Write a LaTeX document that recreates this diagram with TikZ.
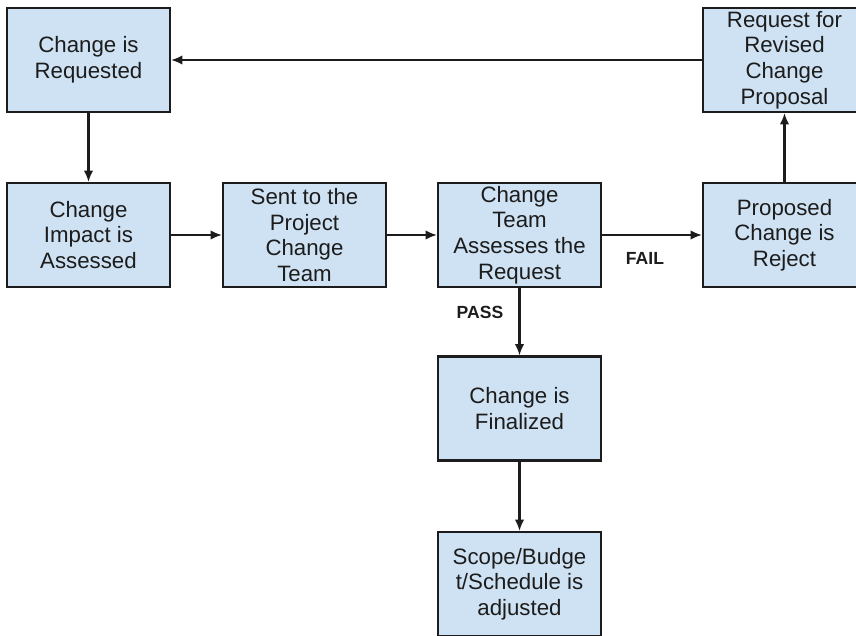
\documentclass[tikz,border=0pt]{standalone}
\usepackage{fontspec}
\setmainfont{Liberation Sans}
\usetikzlibrary{arrows.meta}

\definecolor{boxfill}{HTML}{CFE2F3}
\definecolor{ink}{HTML}{1C1C1C}

\tikzset{
  stepbox/.style={draw=ink, line width=0.65mm, fill=boxfill, text=ink,
    minimum width=48.9mm, minimum height=31.2mm, inner sep=0pt,
    align=center, font=\fontsize{19}{21.8}\selectfont},
  flow/.style={draw=ink, line width=0.65mm, -{Latex[length=3.4mm, width=2.9mm]}},
  tag/.style={text=ink, font=\bfseries\fontsize{15}{18}\selectfont}
}

\begin{document}
\begin{tikzpicture}[x=0.3mm, y=-0.3mm]
  % Frame (boxes on the right run off the edge)
  \clip[use as bounding box] (0,0) rectangle (856,635);

  % Boxes
  \node[stepbox] (req)  at (88.5,60)    {Change is\\Requested};
  \node[stepbox] (rev)  at (784.5,60)   {Request for\\Revised\\Change\\Proposal};
  \node[stepbox] (imp)  at (88.5,235)   {Change\\Impact is\\Assessed};
  \node[stepbox] (sent) at (304.5,235)  {Sent to the\\Project\\Change\\Team};
  \node[stepbox] (team) at (519.5,235)  {Change\\Team\\Assesses the\\Request};
  \node[stepbox] (rej)  at (784.5,235)  {Proposed\\Change is\\Reject};
  \node[stepbox] (fin)  at (519.5,408.5) {Change is\\Finalized};
  \node[stepbox] (adj)  at (519.5,584)  {Scope/Budge\\t/Schedule is\\adjusted};

  % Connectors
  \draw[flow] (rev) -- (req);
  \draw[flow] (req) -- (imp);
  \draw[flow] (imp) -- (sent);
  \draw[flow] (sent) -- (team);
  \draw[flow] (team) -- (rej);
  \draw[flow] (rej) -- (rev);
  \draw[flow] (team) -- (fin);
  \draw[flow] (fin) -- (adj);

  % Decision labels
  \node[tag] (fail) at (645,258) {FAIL};
  \node[tag] (pass) at (480,312) {PASS};
\end{tikzpicture}
\end{document}
